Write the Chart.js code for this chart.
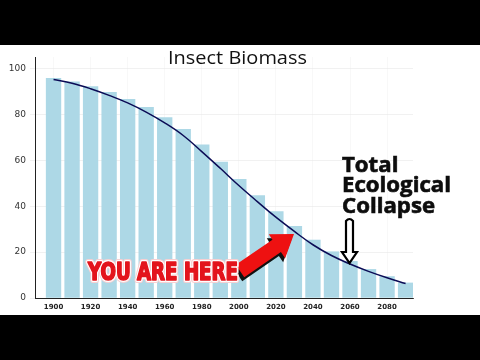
<!DOCTYPE html>
<html>
<head>
<meta charset="utf-8">
<script src="https://cdn.jsdelivr.net/npm/chart.js@4"></script>
<style>
  html, body { margin: 0; padding: 0; background: #000; }
  #wrap { position: absolute; left: 0; top: 45px; width: 480px; height: 270px; background: #fff; }
</style>
</head>
<body>
<div id="wrap"><canvas id="chart" width="480" height="270"></canvas></div>
<script>
// decades shown as bars
const years = [1900, 1910, 1920, 1930, 1940, 1950, 1960, 1970, 1980, 1990,
               2000, 2010, 2020, 2030, 2040, 2050, 2060, 2070, 2080, 2090];
const barValues = [95.9, 94.3, 92.3, 89.7, 86.7, 83.2, 78.8, 73.6, 66.9, 59.4,
                   51.9, 44.8, 37.8, 31.4, 25.4, 20.3, 16.1, 12.6, 9.5, 6.7];
// smooth trend curve read at the same years
const curveValues = [95.2, 93.6, 91.2, 88.3, 85.0, 81.0, 76.3, 70.8, 63.8, 56.5,
                     49.0, 42.0, 35.2, 29.0, 23.2, 18.5, 14.8, 11.6, 8.8, 6.3];
const xTickLabels = [1900, 1920, 1940, 1960, 1980, 2000, 2020, 2040, 2060, 2080];
const yTickLabels = [0, 20, 40, 60, 80, 100];

const titleText = 'Insect Biomass';
const hereText = 'YOU ARE HERE';
const collapseLines = ['Total', 'Ecological', 'Collapse'];

// draws the title and the hand-made callouts over the chart
const overlay = {
  id: 'overlay',
  afterDraw(chart) {
    const ctx = chart.ctx;
    ctx.save();

    // title
    ctx.font = '19px "Open Sans", sans-serif';
    ctx.fillStyle = '#111';
    ctx.textBaseline = 'alphabetic';
    let w = ctx.measureText(titleText).width;
    ctx.save();
    ctx.translate(168, 19);
    ctx.scale(139 / w, 1);
    ctx.fillText(titleText, 0, 0);
    ctx.restore();

    // Total Ecological Collapse
    ctx.font = 'bold 21px "Open Sans", sans-serif';
    w = ctx.measureText(collapseLines[1]).width;
    const sx = 109 / w;
    ctx.fillStyle = '#0d0d0d';
    ctx.strokeStyle = '#0d0d0d';
    ctx.lineWidth = 0.6;
    collapseLines.forEach((line, i) => {
      ctx.save();
      ctx.translate(342, 126.5 + i * 20.8);
      ctx.scale(sx, 1);
      ctx.fillText(line, 0, 0);
      ctx.strokeText(line, 0, 0);
      ctx.restore();
    });

    // hollow down arrow
    ctx.beginPath();
    ctx.moveTo(346, 176);
    ctx.quadraticCurveTo(349.5, 172, 353, 176);
    ctx.lineTo(353, 207);
    ctx.lineTo(357, 207);
    ctx.lineTo(349.5, 218);
    ctx.lineTo(342, 207);
    ctx.lineTo(346, 207);
    ctx.closePath();
    ctx.fillStyle = '#fff';
    ctx.fill();
    ctx.lineWidth = 2.2;
    ctx.strokeStyle = '#000';
    ctx.lineJoin = 'miter';
    ctx.stroke();

    // red arrow
    const tail = [240, 226], tip = [294, 189];
    const dx = tip[0] - tail[0], dy = tip[1] - tail[1];
    const len = Math.hypot(dx, dy);
    const ux = dx / len, uy = dy / len, nx = -uy, ny = ux;
    const neck = [tip[0] - ux * 21, tip[1] - uy * 21];
    const pts = [
      [tail[0] + nx * 7.5, tail[1] + ny * 7.5],
      [neck[0] + nx * 7.5, neck[1] + ny * 7.5],
      [neck[0] + nx * 15, neck[1] + ny * 15],
      tip,
      [neck[0] - nx * 14, neck[1] - ny * 14],
      [neck[0] - nx * 7.5, neck[1] - ny * 7.5],
      [tail[0] - nx * 7.5, tail[1] - ny * 7.5]
    ];
    const poly = (ox, oy) => {
      ctx.beginPath();
      pts.forEach((p, i) => i ? ctx.lineTo(p[0] + ox, p[1] + oy) : ctx.moveTo(p[0] + ox, p[1] + oy));
      ctx.closePath();
    };
    poly(-2, 4);
    ctx.fillStyle = '#111';
    ctx.fill();
    poly(0, 0);
    ctx.fillStyle = '#ee1111';
    ctx.fill();

    // YOU ARE HERE
    ctx.font = 'bold 24px "DejaVu Sans Condensed", "Liberation Sans Narrow", sans-serif';
    w = ctx.measureText(hereText).width;
    ctx.save();
    ctx.translate(88, 235);
    ctx.scale(150 / w, 1);
    ctx.lineJoin = 'round';
    ctx.lineWidth = 6;
    ctx.strokeStyle = '#f7d0d2';
    ctx.strokeText(hereText, 0, 0);
    ctx.lineWidth = 4;
    ctx.strokeStyle = '#fff';
    ctx.strokeText(hereText, 0, 0);
    ctx.lineWidth = 1.6;
    ctx.strokeStyle = '#e3141c';
    ctx.strokeText(hereText, 0, 0);
    ctx.fillStyle = '#e3141c';
    ctx.fillText(hereText, 0, 0);
    ctx.restore();

    ctx.restore();
  }
};

new Chart(document.getElementById('chart'), {
  type: 'bar',
  data: {
    datasets: [
      {
        type: 'line',
        data: years.map((x, i) => ({ x: x, y: curveValues[i] })),
        borderColor: '#0b0b55',
        borderWidth: 1.5,
        pointRadius: 0,
        tension: 0.4,
        fill: false,
        order: 0
      },
      {
        type: 'bar',
        data: years.map((x, i) => ({ x: x, y: barValues[i] })),
        backgroundColor: '#add8e6',
        borderWidth: 0,
        barPercentage: 0.92,
        categoryPercentage: 0.9,
        order: 1
      }
    ]
  },
  options: {
    responsive: false,
    animation: false,
    layout: { padding: { left: 0, top: 12, right: 67, bottom: 0 } },
    plugins: { legend: { display: false }, tooltip: { enabled: false }, title: { display: false } },
    scales: {
      x: {
        type: 'linear',
        min: 1890,
        max: 2094,
        offset: false,
        afterBuildTicks: s => { s.ticks = xTickLabels.map(v => ({ value: v })); },
        afterFit: s => { s.height = 17; },
        grid: { color: '#f3f3f3', lineWidth: 0.6, drawTicks: false, offset: false },
        border: { color: '#222', width: 1 },
        ticks: {
          padding: 5,
          color: '#222',
          font: { family: 'DejaVu Sans', size: 7, weight: 'bold' },
          maxRotation: 0,
          autoSkip: false,
          callback: v => String(v)
        }
      },
      y: {
        min: 0,
        max: 105,
        afterBuildTicks: s => { s.ticks = yTickLabels.map(v => ({ value: v })); },
        afterFit: s => { s.width = 35; },
        grid: { color: '#e8e8e8', lineWidth: 0.6, tickLength: 5 },
        border: { color: '#222', width: 1 },
        ticks: {
          padding: 4,
          color: '#333',
          font: { family: 'DejaVu Sans', size: 9 }
        }
      }
    }
  },
  plugins: [overlay]
});
</script>
</body>
</html>
